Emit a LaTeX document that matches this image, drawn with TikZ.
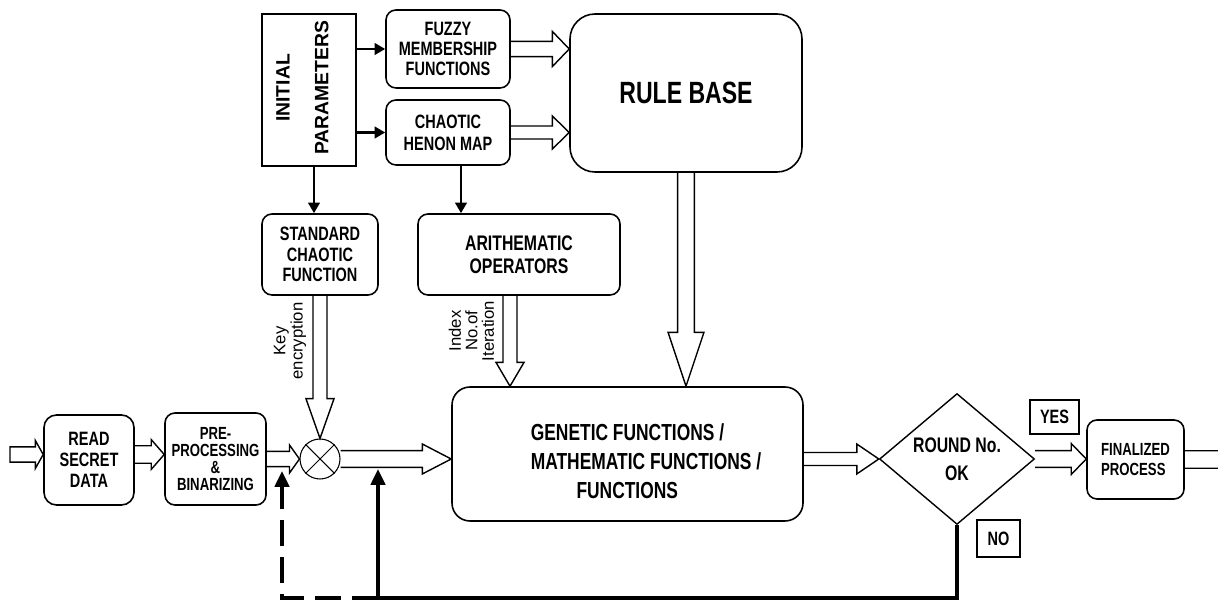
\documentclass[tikz,border=0pt]{standalone}
\usepackage{fontspec}
\setmainfont{Liberation Sans}[FakeStretch=0.75]
\newfontfamily\plainsans{Liberation Sans}
\usetikzlibrary{shapes,arrows.meta,positioning,calc}

\tikzset{
  box/.style={draw, line width=0.9pt, rounded corners=0.2cm, align=center, inner sep=1pt,
    font=\bfseries\fontsize{11}{11.5}\selectfont},
  tagbox/.style={draw, line width=0.9pt, inner sep=0pt, font=\bfseries\fontsize{11}{12}\selectfont},
  hollow/.style={line width=0.8pt, line join=miter},
  thinarrow/.style={line width=1.6pt, -{Triangle[length=6pt,width=6.5pt]}},
  loopback/.style={line width=2.2pt, -{Triangle[length=9pt,width=8pt]}},
  loopdash/.style={loopback, dash pattern=on 15pt off 6pt},
  sidenote/.style={rotate=90, align=center, inner sep=0pt}
}

% hollow block arrows: [tail], start, end, half shaft, half head, head length
\newcommand{\hollowright}[6][]{%
  \draw[hollow] let \p1=(#2), \p2=(#3) in
    (\x1,\y1+#4) -- (\x2-#6,\y1+#4) -- (\x2-#6,\y1+#5) -- (\x2,\y1)
    -- (\x2-#6,\y1-#5) -- (\x2-#6,\y1-#4) -- (\x1,\y1-#4) #1;}
\newcommand{\hollowdown}[5]{%
  \draw[hollow] let \p1=(#1), \p2=(#2) in
    (\x1-#3,\y1) -- (\x1-#3,\y2+#5) -- (\x1-#4,\y2+#5) -- (\x1,\y2)
    -- (\x1+#4,\y2+#5) -- (\x1+#3,\y2+#5) -- (\x1+#3,\y1);}

\begin{document}
\begin{tikzpicture}
  \useasboundingbox (0,0) rectangle (24.36,-12.02);

  % top row
  \node[draw, line width=0.9pt, minimum width=1.88cm, minimum height=3.04cm] (init) at (6.18,-1.80) {};
  \node[sidenote, font=\plainsans\bfseries\fontsize{11}{22}\selectfont] (initlbl) at (6.05,-1.76) {INITIAL\\PARAMETERS};
  \node[box, minimum width=2.48cm, minimum height=1.56cm] (fuzzy) at (8.96,-0.98) {FUZZY\\MEMBERSHIP\\FUNCTIONS};
  \node[box, minimum width=2.48cm, minimum height=1.30cm, font=\bfseries\fontsize{11}{12.5}\selectfont] (henon) at (8.96,-2.65) {CHAOTIC\\HENON MAP};
  \node[box, rounded corners=0.5cm, minimum width=4.64cm, minimum height=3.16cm, font=\bfseries\fontsize{17.5}{19}\selectfont] (rule) at (13.72,-1.86) {RULE BASE};

  % middle row
  \node[box, minimum width=2.32cm, minimum height=1.62cm] (stdfn) at (6.40,-5.09) {STANDARD\\CHAOTIC\\FUNCTION};
  \node[box, minimum width=4.04cm, minimum height=1.62cm, font=\bfseries\fontsize{12}{13}\selectfont] (arith) at (10.38,-5.09) {ARITHEMATIC\\OPERATORS};
  \node[sidenote, font=\plainsans\fontsize{9.5}{8.5}\selectfont] (keylbl) at (5.80,-6.82) {Key\\encryption};
  \node[sidenote, font=\plainsans\fontsize{9.5}{9.4}\selectfont] (idxlbl) at (9.43,-6.62) {Index\\No.of\\Iteration};

  % main line
  \coordinate (in) at (0.2,-9.09);
  \node[box, rounded corners=0.25cm, minimum width=1.8cm, minimum height=1.8cm, font=\bfseries\fontsize{11}{12}\selectfont] (read) at (1.78,-9.20) {READ\\SECRET\\DATA};
  \node[box, minimum width=2.02cm, minimum height=1.84cm, font=\bfseries\fontsize{10}{9.6}\selectfont] (prep) at (4.31,-9.18) {PRE-\\PROCESSING\\\&\\BINARIZING};
  \node[circle, draw, line width=0.6pt, minimum size=0.8cm, inner sep=0pt] (xor) at (6.40,-9.18) {};
  \draw[line width=0.6pt] (xor.north west) -- (xor.south east) (xor.north east) -- (xor.south west);
  \node[box, rounded corners=0.36cm, minimum width=7.02cm, minimum height=2.68cm] (gen) at (12.55,-9.08) {};
  \node[align=left, font=\bfseries\fontsize{13.2}{16.4}\selectfont] (gentext) at (12.92,-9.22) {GENETIC FUNCTIONS /\\MATHEMATIC FUNCTIONS /\\\hspace*{26pt}FUNCTIONS};
  \node[diamond, draw, line width=0.8pt, minimum width=3.1cm, minimum height=2.36cm, inner sep=0pt, align=center, font=\bfseries\fontsize{12}{16}\selectfont] (round) at (19.14,-9.18) {ROUND No.\\OK};
  \node[tagbox, minimum width=0.98cm, minimum height=0.68cm] (yes) at (21.09,-8.34) {YES};
  \node[tagbox, minimum width=0.86cm, minimum height=0.74cm] (no) at (19.97,-10.77) {NO};
  \node[box, minimum width=1.94cm, minimum height=1.58cm, align=left, font=\bfseries\fontsize{10}{11}\selectfont] (final) at (22.71,-9.19) {FINALIZED\\PROCESS};
  \coordinate (out) at (24.7,-9.13);

  % arrows out of the parameters
  \draw[thinarrow] (init.east |- fuzzy.west) -- (fuzzy.west);
  \draw[thinarrow] (init.east |- henon.west) -- (henon.west);
  \draw[thinarrow] ($(init.south)+(0.1,0)$) coordinate (is) -- (is |- stdfn.north);
  \draw[thinarrow] ($(henon.south)+(0.26,0)$) coordinate (hs) -- (hs |- arith.north);

  % block arrows
  \hollowright{fuzzy.east}{rule.west}{4.3pt}{10pt}{9.6pt}
  \hollowright{henon.east}{rule.west}{3.7pt}{9.4pt}{9.6pt}
  \hollowdown{rule.south}{gen.north}{4.8pt}{10.2pt}{30.6pt}
  \hollowdown{stdfn.south}{xor.north}{4pt}{8pt}{22.7pt}
  \hollowdown{$(arith.south)+(-0.18,0)$}{gen.north}{4pt}{8pt}{13.6pt}
  \hollowright[-- cycle]{in}{read.west}{4.3pt}{8pt}{4.5pt}
  \hollowright{read.east |- in}{prep.west}{5pt}{8.5pt}{7.4pt}
  \hollowright{prep.east}{xor.west}{4.3pt}{8pt}{5.7pt}
  \hollowright{xor.east}{gen.west}{4.8pt}{8.5pt}{16.4pt}
  \hollowright{gen.east |- round.west}{round.west}{3.7pt}{8.5pt}{12.5pt}
  \hollowright{round.east}{final.west}{4.8pt}{8.8pt}{8.5pt}
  \hollowright{final.east}{out}{5pt}{8.5pt}{8.5pt}

  % feedback loop
  \coordinate (fbcorner) at (round.south |- 0,-11.96);
  \coordinate (fbsolid) at (7.56,-11.96);
  \coordinate (fbdash) at (5.64,-11.96);
  \draw[loopback] (round.south) -- (fbcorner) -- (fbsolid) -- (fbsolid |- 0,-9.38);
  \draw[loopdash] (fbsolid) -- (fbdash) -- (fbdash |- 0,-9.42);
\end{tikzpicture}
\end{document}
